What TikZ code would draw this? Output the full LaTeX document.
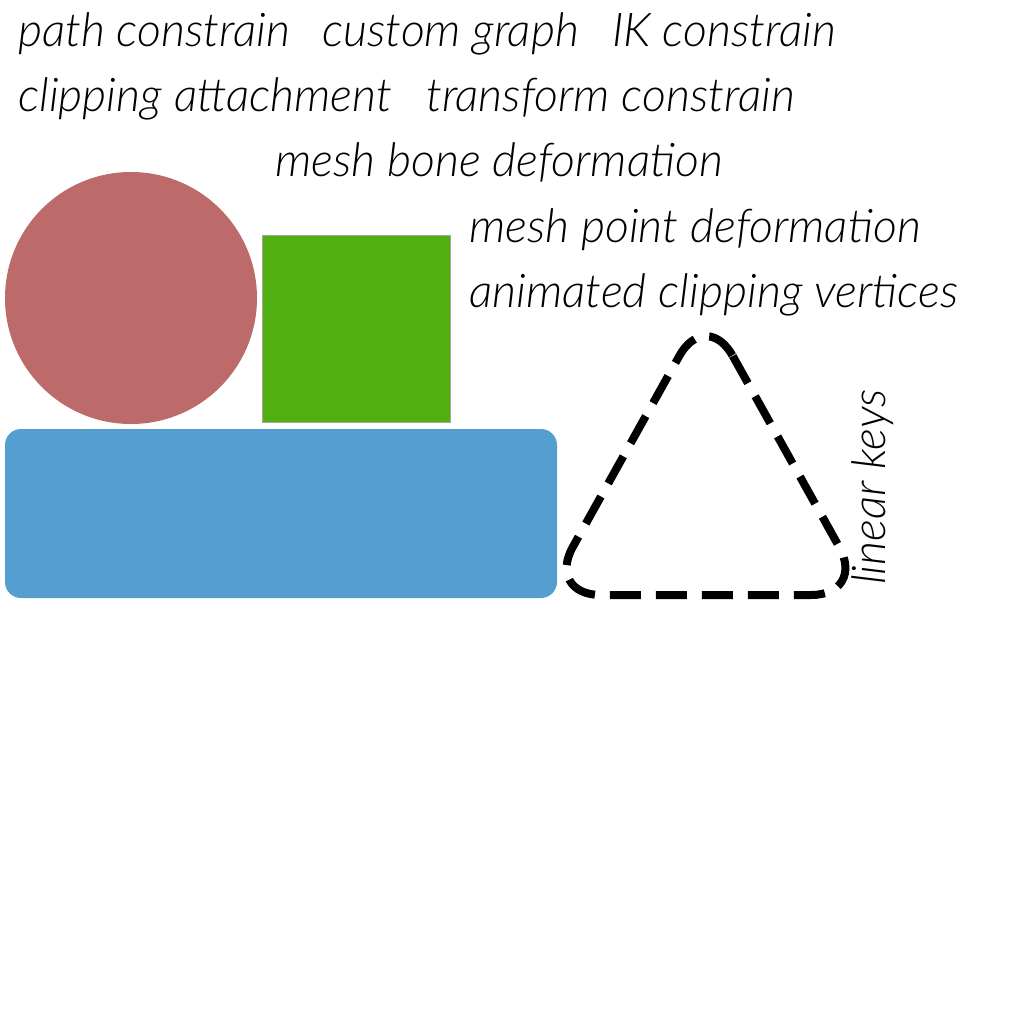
\documentclass[tikz,border=0pt]{standalone}
\usepackage{fontspec}
\setmainfont{Lato}[UprightFont=* Light, ItalicFont=* Light Italic]
\begin{document}
\begin{tikzpicture}[x=1pt,y=-1pt,
  lbl/.style={anchor=base west,inner sep=0pt,font=\fontsize{46.5}{52}\selectfont\itshape},
  dashtri/.style={draw=black,line width=8pt,dash pattern=on 31pt off 15pt,rounded corners=55pt}]
\useasboundingbox (0,0) rectangle (1024,1024);
\definecolor{cred}{RGB}{189,106,106}
\definecolor{cgreen}{RGB}{81,175,18}
\definecolor{cblue}{RGB}{84,159,207}
\node[lbl] (t1) at (18,47) {path constrain};
\node[lbl] (t2) at (322,47) {custom graph};
\node[lbl] (t3) at (612,47) {IK constrain};
\node[lbl] (t4) at (18,112) {clipping attachment};
\node[lbl] (t5) at (426,112) {transform constrain};
\node[lbl] (t6) at (275,177) {mesh bone deformation};
\node[lbl] (t7) at (469,242) {mesh point deformation};
\node[lbl] (t8) at (469,307) {animated clipping vertices};
\node[lbl,rotate=90] (t9) at (885,585) {linear keys};
\fill[cred] (131,298) circle (126);
\filldraw[fill=cgreen,draw=black!35,line width=0.8pt] (262,235) rectangle (450,422);
\fill[cblue,rounded corners=16pt] (5,429) rectangle (557,598);
\coordinate (A) at (706,308);
\coordinate (B) at (546,595);
\coordinate (C) at (866,595);
\draw[dashtri] (A) -- (C) -- (B) -- cycle;
\end{tikzpicture}
\end{document}
